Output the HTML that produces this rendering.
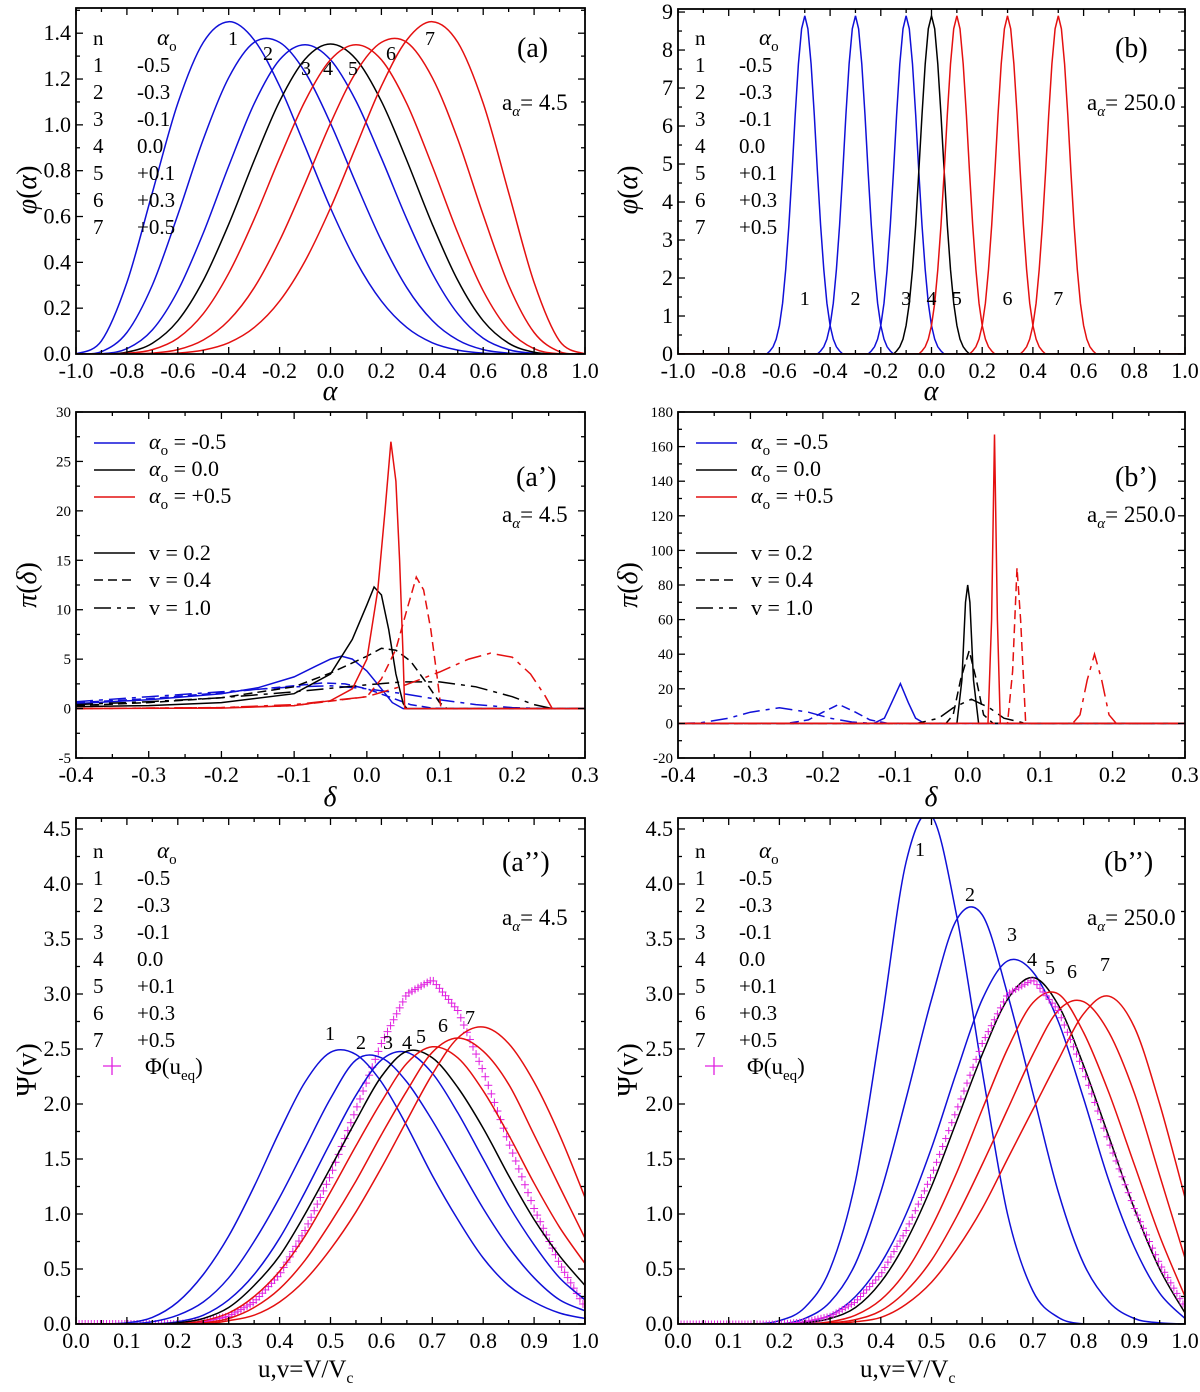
<!DOCTYPE html>
<html><head><meta charset="utf-8">
<style>
html,body{margin:0;padding:0;background:#fff;}
svg, svg text{font-family:"Liberation Serif","Times New Roman",serif;}
</style></head>
<body>
<svg id="fig" width="1200" height="1387" viewBox="0 0 1200 1387" xmlns="http://www.w3.org/2000/svg" font-family="Liberation Serif, serif"></svg>
<script>
// ---------- DATA ----------
// Panel (a)
const alphaGrid=[-1,-0.9,-0.8,-0.7,-0.6,-0.5,-0.4,-0.3,-0.2,-0.1,0,0.1,0.2,0.3,0.4,0.5,0.6,0.7,0.8,0.9,1];
const phiA1=[0,.057,.312,.705,1.094,1.36,1.45,1.371,1.169,.905,.637,.406,.231,.115,.049,.017,.004,.001,0,0,0];
const phiA2=[0,.010,.094,.301,.607,.937,1.206,1.36,1.36,1.23,1.007,.745,.495,.289,.146,.061,.019,.004,.001,0,0];
const phiA3=[0,.001,.023,.105,.276,.528,.820,1.092,1.284,1.35,1.284,1.104,.855,.588,.352,.176,.069,.019,.003,0,0];
const phiA4=[0,0,.008,.047,.145,.321,.566,.844,1.103,1.287,1.353,1.287,1.103,.844,.566,.321,.145,.047,.008,0,0];
const phiA5=[0,0,.003,.019,.069,.176,.352,.588,.855,1.104,1.284,1.35,1.284,1.092,.820,.528,.276,.105,.023,.001,0];
const phiA6=[0,0,.001,.004,.019,.061,.146,.289,.495,.745,1.007,1.23,1.36,1.36,1.206,.937,.607,.301,.094,.010,0];
const phiA7=[0,0,0,.001,.004,.017,.049,.115,.231,.406,.637,.905,1.169,1.371,1.45,1.36,1.094,.705,.312,.057,0];
// Panel (b)
const centersB=[-0.5,-0.3,-0.1,0,0.1,0.3,0.5];
const profileOffsets=[-0.15,-0.1375,-0.125,-0.1125,-0.1,-0.0875,-0.075,-0.0625,-0.05,-0.0375,-0.025,-0.0125,0,0.0125,0.025,0.0375,0.05,0.0625,0.075,0.0875,0.1,0.1125,0.125,0.1375,0.15];
const profileValues=[0,0.08,0.19,0.39,0.75,1.34,2.22,3.39,4.8,6.29,7.63,8.56,8.9,8.56,7.63,6.29,4.8,3.39,2.22,1.34,0.75,0.39,0.19,0.08,0];
// Panel (a')
const pa_blue_s=[[-0.4,0.5],[-0.3,0.9],[-0.2,1.5],[-0.15,2.1],[-0.1,3.2],[-0.07,4.3],[-0.05,5.0],[-0.035,5.3],[-0.02,5.0],[0,3.8],[0.02,2.0],[0.035,0.6],[0.05,0],[0.3,0]];
const pa_blue_d=[[-0.4,0.6],[-0.3,1.0],[-0.2,1.6],[-0.1,2.3],[-0.06,2.6],[-0.03,2.5],[0,2.0],[0.03,1.2],[0.06,0.4],[0.09,0.05],[0.11,0],[0.3,0]];
const pa_blue_l=[[-0.4,0.7],[-0.3,1.2],[-0.2,1.7],[-0.1,2.2],[-0.05,2.3],[0,2.0],[0.05,1.5],[0.1,0.9],[0.15,0.4],[0.2,0.1],[0.25,0],[0.3,0]];
const pa_black_s=[[-0.4,0.2],[-0.3,0.3],[-0.2,0.6],[-0.1,1.5],[-0.05,3.5],[-0.02,7],[0,10.5],[0.01,12.3],[0.02,11.5],[0.03,8],[0.04,3.5],[0.05,0.5],[0.055,0],[0.3,0]];
const pa_black_d=[[-0.4,0.3],[-0.3,0.6],[-0.2,1.1],[-0.1,2.2],[-0.05,3.6],[0,5.3],[0.02,6.1],[0.04,5.9],[0.06,4.8],[0.08,2.8],[0.1,0.6],[0.11,0],[0.3,0]];
const pa_black_l=[[-0.4,0.4],[-0.3,0.7],[-0.2,1.1],[-0.1,1.7],[0,2.4],[0.05,2.7],[0.1,2.7],[0.15,2.2],[0.2,1.2],[0.23,0.4],[0.255,0],[0.3,0]];
const pa_red_s=[[-0.4,0],[-0.2,0.05],[-0.1,0.3],[-0.05,0.8],[-0.02,2],[0,5],[0.015,12],[0.025,20],[0.033,27],[0.04,23],[0.045,15],[0.05,5],[0.052,0],[0.3,0]];
const pa_red_d=[[-0.4,0],[-0.2,0.1],[-0.1,0.3],[0,1.2],[0.02,3],[0.04,6],[0.055,10],[0.068,13.3],[0.078,12],[0.088,8],[0.097,3],[0.102,0],[0.3,0]];
const pa_red_l=[[-0.4,0],[-0.2,0.1],[-0.1,0.4],[0,1.2],[0.05,2.3],[0.1,3.7],[0.14,5],[0.17,5.6],[0.2,5.2],[0.225,3.5],[0.245,1.3],[0.255,0],[0.3,0]];
// Panel (b')
const pb_blue_s=[[-0.4,0],[-0.13,0],[-0.115,3],[-0.105,12],[-0.093,23],[-0.082,12],[-0.072,3],[-0.06,0],[0.3,0]];
const pb_blue_d=[[-0.4,0],[-0.25,0],[-0.22,2],[-0.2,6.5],[-0.178,11],[-0.155,6.5],[-0.135,2],[-0.11,0],[0.3,0]];
const pb_blue_l=[[-0.4,0],[-0.37,0.3],[-0.33,3],[-0.3,6.5],[-0.26,9],[-0.22,6.5],[-0.19,3],[-0.16,0.8],[-0.13,0],[0.3,0]];
const pb_black_s=[[-0.4,0],[-0.015,0],[-0.008,25],[-0.003,70],[0,80],[0.003,70],[0.008,25],[0.015,0],[0.3,0]];
const pb_black_d=[[-0.4,0],[-0.03,0],[-0.02,5],[-0.01,25],[0.002,42],[0.012,25],[0.022,5],[0.035,0],[0.3,0]];
const pb_black_l=[[-0.4,0],[-0.07,0],[-0.04,3],[-0.02,9],[0.005,14],[0.03,9],[0.05,3],[0.08,0],[0.3,0]];
const pb_red_s=[[-0.4,0],[0.028,0],[0.033,60],[0.037,167],[0.041,60],[0.045,0],[0.3,0]];
const pb_red_d=[[-0.4,0],[0.055,0],[0.062,30],[0.068,90],[0.073,60],[0.08,0],[0.3,0]];
const pb_red_l=[[-0.4,0],[0.145,0],[0.155,5],[0.165,25],[0.175,40],[0.185,25],[0.195,5],[0.205,0],[0.3,0]];
// Panel (a'')
const uGrid=[0,0.05,0.1,0.15,0.2,0.25,0.3,0.35,0.4,0.45,0.5,0.55,0.6,0.65,0.7,0.75,0.8,0.85,0.9,0.95,1];
const psiA1=[0,0,.01,.06,.2,.45,.8,1.25,1.75,2.2,2.47,2.45,2.2,1.8,1.35,.95,.6,.35,.2,.1,.05];
const psiA2=[0,0,0,.02,.08,.2,.42,.75,1.15,1.6,2.05,2.4,2.42,2.2,1.85,1.45,1.05,.7,.42,.22,.12];
const psiA3=[0,0,0,0,.02,.08,.22,.45,.78,1.2,1.65,2.08,2.4,2.47,2.28,1.92,1.5,1.08,.72,.42,.22];
const psiA4=[0,0,0,0,.01,.05,.15,.35,.62,1.0,1.42,1.85,2.25,2.48,2.42,2.15,1.78,1.35,.95,.62,.35];
const psiA5=[0,0,0,0,0,.03,.1,.25,.48,.8,1.2,1.62,2.02,2.37,2.52,2.42,2.12,1.72,1.28,.88,.55];
const psiA6=[0,0,0,0,0,.01,.05,.15,.32,.58,.92,1.3,1.72,2.12,2.47,2.6,2.48,2.18,1.72,1.25,.78];
const psiA7=[0,0,0,0,0,0,.03,.08,.2,.4,.68,1.02,1.42,1.85,2.27,2.6,2.7,2.55,2.2,1.72,1.15];
const phiEq=[0,0,0,0,0,.02,.07,.2,.45,.85,1.35,1.95,2.55,3.0,3.13,2.85,2.3,1.65,1.05,.55,.15];
// Panel (b'')
const psiB1=[0,0,0,0,.03,.15,.5,1.3,2.7,4.2,4.62,3.7,2.3,1.0,.3,.06,0,0,0,0,0];
const psiB2=[0,0,0,0,0,.05,.2,.55,1.2,2.05,2.95,3.68,3.72,3.0,2.1,1.2,.55,.2,.05,.01,0];
const psiB3=[0,0,0,0,0,.02,.08,.25,.55,1.0,1.6,2.3,2.95,3.3,3.2,2.75,2.05,1.3,.7,.28,.05];
const psiB4=[0,0,0,0,0,.01,.05,.15,.38,.75,1.25,1.85,2.45,2.95,3.15,2.9,2.35,1.7,1.05,.5,.1];
const psiB5=[0,0,0,0,0,0,.02,.08,.22,.48,.88,1.38,1.95,2.5,2.92,3.0,2.65,2.1,1.45,.8,.25];
const psiB6=[0,0,0,0,0,0,.01,.04,.12,.3,.58,.98,1.45,1.95,2.45,2.85,2.93,2.65,2.1,1.35,.6];
const psiB7=[0,0,0,0,0,0,0,.02,.06,.18,.38,.68,1.05,1.5,1.95,2.4,2.82,2.98,2.7,2.0,1.15];

// ---------- DRAWING ----------
const NS="http://www.w3.org/2000/svg";
const svg=document.getElementById('fig');
const FONT='"Liberation Serif", "Times New Roman", serif';
const BLUE="#1010d8", RED="#e41010", BLACK="#000", MAG="#e020e0";
function el(tag,attrs,parent){const e=document.createElementNS(NS,tag);for(const k in attrs)e.setAttribute(k,attrs[k]);(parent||svg).appendChild(e);return e;}
function mk(P){P.sx=v=>P.x0+(v-P.xmin)/(P.xmax-P.xmin)*(P.x1-P.x0);P.sy=v=>P.y1-(v-P.ymin)/(P.ymax-P.ymin)*(P.y1-P.y0);return P;}
function smoothPath(pts){let d="M"+pts[0][0].toFixed(1)+","+pts[0][1].toFixed(1);
  for(let i=0;i<pts.length-1;i++){const p0=pts[Math.max(0,i-1)],p1=pts[i],p2=pts[i+1],p3=pts[Math.min(pts.length-1,i+2)];
    const c1=[p1[0]+(p2[0]-p0[0])/6,p1[1]+(p2[1]-p0[1])/6],c2=[p2[0]-(p3[0]-p1[0])/6,p2[1]-(p3[1]-p1[1])/6];
    d+=" C"+c1[0].toFixed(1)+","+c1[1].toFixed(1)+" "+c2[0].toFixed(1)+","+c2[1].toFixed(1)+" "+p2[0].toFixed(1)+","+p2[1].toFixed(1);}
  return d;}
function linePath(pts){return "M"+pts.map(p=>p[0].toFixed(1)+","+p[1].toFixed(1)).join(" L");}
let clipN=0;
function panel(P,name){
  mk(P);
  const g=el('g',{});
  
  
  const cid='clip'+(clipN++);
  const cp=el('clipPath',{id:cid},g);el('rect',{x:P.x0,y:P.y0,width:P.x1-P.x0,height:P.y1-P.y0},cp);
  P.g=g;P.plot=el('g',{'clip-path':'url(#'+cid+')'},g);
  
  
  return P;}
function axes(P,name){
  const g=el('g',{stroke:'#000','stroke-width':1.3,fill:'none'},P.g);
  const fr=el('rect',{x:P.x0,y:P.y0,width:P.x1-P.x0,height:P.y1-P.y0,stroke:'#000','stroke-width':1.8,fill:'none'},P.g);
  
  
  const eps=1e-9;
  for(let v=P.xmin;v<=P.xmax+eps;v+=P.xminor){const x=P.sx(v);const maj=Math.abs(Math.round((v-P.xmin)/P.xmajor)*P.xmajor-(v-P.xmin))<1e-6;const L=maj?7:4;
    el('line',{x1:x,y1:P.y1,x2:x,y2:P.y1-L},g);el('line',{x1:x,y1:P.y0,x2:x,y2:P.y0+L},g);}
  for(let v=P.ymin;v<=P.ymax+eps;v+=P.yminor){const y=P.sy(v);const maj=Math.abs(Math.round((v-P.ymin)/P.ymajor)*P.ymajor-(v-P.ymin))<1e-6;const L=maj?7:4;
    el('line',{x1:P.x0,y1:y,x2:P.x0+L,y2:y},g);el('line',{x1:P.x1,y1:y,x2:P.x1-L,y2:y},g);}
  const xl=el('g',{'font-size':P.xfs||22,'text-anchor':'middle',fill:'#000','font-family':FONT},P.g);
  
  
  for(let v=P.xmin;v<=P.xmax+eps;v+=P.xmajor){const t=el('text',{x:P.sx(v),y:P.y1+24},xl);let s=v.toFixed(P.xdec);if(s==='-0.0')s='0.0';t.textContent=s;}
  const yl=el('g',{'font-size':P.yfs||22,'text-anchor':'end',fill:'#000','font-family':FONT},P.g);
  
  
  for(let v=P.ymin;v<=P.ymax+eps;v+=P.ymajor){const t=el('text',{x:P.x0-5,y:P.sy(v)+(P.yfs?5:7)},yl);t.textContent=v.toFixed(P.ydec);}
}
function curve(P,xs,ys,color,name,dash,smooth){
  const pts=xs.map((x,i)=>[P.sx(x),P.sy(ys[i])]);
  const p=el('path',{d:smooth?smoothPath(pts):linePath(pts),fill:'none',stroke:color,'stroke-width':1.5},P.plot);
  if(dash)p.setAttribute('stroke-dasharray',dash);
  
  
  return p;}
function pairCurve(P,pairs,color,name,dash){return curve(P,pairs.map(p=>p[0]),pairs.map(p=>p[1]),color,name,dash,false);}
function txt(x,y,s,fs,name,extra){const t=el('text',Object.assign({x:x,y:y,'font-size':fs,fill:'#000','font-family':FONT},extra||{}));t.innerHTML=s;
  
  
  return t;}
const SUBO='<tspan font-style="italic">α</tspan><tspan font-size="15" dy="6">o</tspan>';
const AALPHA=(v)=>'a<tspan font-size="15" dy="6" font-style="italic">α</tspan><tspan dy="-6">= '+v+'</tspan>';
const alphaVals=['-0.5','-0.3','-0.1',' 0.0','+0.1','+0.3','+0.5'];
function nLegend(ox,oy,name,withPhi){
  txt(ox,oy,'n',21,name+'-header-n');
  txt(ox+64,oy,SUBO,23,name+'-header-alpha');
  for(let i=0;i<7;i++){txt(ox,oy+27*(i+1),String(i+1),21,name+'-row-'+(i+1)+'-n');
    txt(ox+44,oy+27*(i+1),alphaVals[i],21,name+'-row-'+(i+1)+'-value',{'xml:space':'preserve'});}
  if(withPhi){const y=oy+27*8;
    const c=el('g',{stroke:MAG,'stroke-width':1.3});
    
    
    el('line',{x1:ox+10,y1:y-8,x2:ox+28,y2:y-8},c);el('line',{x1:ox+19,y1:y-17,x2:ox+19,y2:y+1},c);
    txt(ox+52,y,'Φ(u<tspan font-size="15" dy="6">eq</tspan><tspan dy="-6">)</tspan>',23,name+'-phi-label');}
}

// Panel (a)
const PA=panel({x0:76,x1:585,y0:8,y1:354,xmin:-1,xmax:1,ymin:0,ymax:1.51,xmajor:0.2,xminor:0.1,ymajor:0.2,yminor:0.1,xdec:1,ydec:1},'panel-a');
[phiA1,phiA2,phiA3,phiA4,phiA5,phiA6,phiA7].forEach((arr,i)=>curve(PA,alphaGrid,arr,i<3?BLUE:(i==3?BLACK:RED),'phi-curve-'+(i+1),null,true));
axes(PA,'panel-a');
// Panel (b)
const PB=panel({x0:678,x1:1185,y0:9,y1:354,xmin:-1,xmax:1,ymin:0,ymax:9.08,xmajor:0.2,xminor:0.1,ymajor:1,yminor:0.5,xdec:1,ydec:0},'panel-b');
centersB.forEach((c,i)=>{const xs=[-1].concat(profileOffsets.map(o=>c+o)).concat([1]);const ys=[0].concat(profileValues).concat([0]);
  curve(PB,xs,ys,i<3?BLUE:(i==3?BLACK:RED),'phi-curve-'+(i+1),null,false);});
curve(PB,[-1,1],[0,0],RED,'baseline-red',null,false);
axes(PB,'panel-b');
// Panel (a')
const PA2=panel({x0:76,x1:585,y0:412,y1:758,xmin:-0.4,xmax:0.3,ymin:-5,ymax:30,xmajor:0.1,xminor:0.05,ymajor:5,yminor:2.5,xdec:1,ydec:0,yfs:15},'panel-a-prime');
const D2="9,5",D3="17,6,4,6";
pairCurve(PA2,pa_blue_l,BLUE,'pi-blue-v1',D3);pairCurve(PA2,pa_blue_d,BLUE,'pi-blue-v04',D2);pairCurve(PA2,pa_blue_s,BLUE,'pi-blue-v02');
pairCurve(PA2,pa_black_l,BLACK,'pi-black-v1',D3);pairCurve(PA2,pa_black_d,BLACK,'pi-black-v04',D2);pairCurve(PA2,pa_black_s,BLACK,'pi-black-v02');
pairCurve(PA2,pa_red_l,RED,'pi-red-v1',D3);pairCurve(PA2,pa_red_d,RED,'pi-red-v04',D2);pairCurve(PA2,pa_red_s,RED,'pi-red-v02');
axes(PA2,'panel-a-prime');
// Panel (b')
const PB2=panel({x0:678,x1:1185,y0:412,y1:758,xmin:-0.4,xmax:0.3,ymin:-20,ymax:180,xmajor:0.1,xminor:0.05,ymajor:20,yminor:10,xdec:1,ydec:0,yfs:15},'panel-b-prime');
pairCurve(PB2,pb_blue_l,BLUE,'pi-blue-v1',D3);pairCurve(PB2,pb_blue_d,BLUE,'pi-blue-v04',D2);pairCurve(PB2,pb_blue_s,BLUE,'pi-blue-v02');
pairCurve(PB2,pb_black_l,BLACK,'pi-black-v1',D3);pairCurve(PB2,pb_black_d,BLACK,'pi-black-v04',D2);pairCurve(PB2,pb_black_s,BLACK,'pi-black-v02');
pairCurve(PB2,pb_red_l,RED,'pi-red-v1',D3);pairCurve(PB2,pb_red_d,RED,'pi-red-v04',D2);pairCurve(PB2,pb_red_s,RED,'pi-red-v02');
axes(PB2,'panel-b-prime');
// Panels (a'') (b'')
function crosses(P,name,size){const g=el('g',{stroke:MAG,'stroke-width':1},P.plot);
  
  
  for(let u=0;u<=1.0001;u+=0.006){const k=Math.min(uGrid.length-2,Math.floor(u/0.05));const t=(u-uGrid[k])/0.05;const v=phiEq[k]*(1-t)+phiEq[k+1]*t;
    const x=P.sx(u),y=P.sy(v);el('line',{x1:x-size,y1:y,x2:x+size,y2:y},g);el('line',{x1:x,y1:y-size,x2:x,y2:y+size},g);}}
function closeEnd(P,arr,color,name){const v=arr[arr.length-1];const l=el('line',{x1:P.sx(1),y1:P.sy(v),x2:P.sx(1),y2:P.sy(0),stroke:color,'stroke-width':1.5},P.plot);
  
  }
const PA3=panel({x0:76,x1:585,y0:818,y1:1324,xmin:0,xmax:1,ymin:0,ymax:4.6,xmajor:0.1,xminor:0.05,ymajor:0.5,yminor:0.25,xdec:1,ydec:1},'panel-a-double-prime');
crosses(PA3,'phi-ueq-markers',4);
[psiA1,psiA2,psiA3,psiA4,psiA5,psiA6,psiA7].forEach((arr,i)=>{const c=i<3?BLUE:(i==3?BLACK:RED);curve(PA3,uGrid,arr,c,'psi-curve-'+(i+1),null,true);closeEnd(PA3,arr,c,'psi-end-'+(i+1));});
axes(PA3,'panel-a-double-prime');
const PB3=panel({x0:678,x1:1185,y0:818,y1:1324,xmin:0,xmax:1,ymin:0,ymax:4.6,xmajor:0.1,xminor:0.05,ymajor:0.5,yminor:0.25,xdec:1,ydec:1},'panel-b-double-prime');
[psiB1,psiB2,psiB3,psiB4,psiB5,psiB6,psiB7].forEach((arr,i)=>{const c=i<3?BLUE:(i==3?BLACK:RED);curve(PB3,uGrid,arr,c,'psi-curve-'+(i+1),null,true);closeEnd(PB3,arr,c,'psi-end-'+(i+1));});
crosses(PB3,'phi-ueq-markers',3.5);
axes(PB3,'panel-b-double-prime');

// ---------- TEXT ----------
nLegend(93,45,'legend-a',false);
nLegend(695,45,'legend-b',false);
nLegend(93,858,'legend-a2',true);
nLegend(695,858,'legend-b2',true);
txt(517,57,'(a)',28,'panel-label-a');
txt(1115,57,'(b)',28,'panel-label-b');
txt(502,871,'(a’’)',28,'panel-label-a2');
txt(1104,871,'(b’’)',28,'panel-label-b2');
txt(516,486,'(a’)',28,'panel-label-a1');
txt(1115,486,'(b’)',28,'panel-label-b1');
txt(502,110,AALPHA('4.5'),23,'a-alpha-a');
txt(1087,110,AALPHA('250.0'),23,'a-alpha-b');
txt(502,522,AALPHA('4.5'),23,'a-alpha-a1');
txt(1087,522,AALPHA('250.0'),23,'a-alpha-b1');
txt(502,925,AALPHA('4.5'),23,'a-alpha-a2');
txt(1087,925,AALPHA('250.0'),23,'a-alpha-b2');
// curve numbers
const numsA=[[233,45],[268,60],[306,75],[328,75],[353,75],[391,60],[430,45]];
numsA.forEach((p,i)=>txt(p[0]-5,p[1],String(i+1),20,'curve-number-a-'+(i+1)));
centersB.forEach((c,i)=>txt(PB.sx(c)-5,305,String(i+1),20,'curve-number-b-'+(i+1)));
const numsA3=[[330,1040],[361,1049],[388,1049],[407,1049],[421,1043],[443,1032],[470,1024]];
numsA3.forEach((p,i)=>txt(p[0]-5,p[1],String(i+1),20,'curve-number-a2-'+(i+1)));
const numsB3=[[920,856],[970,901],[1012,941],[1032,966],[1050,974],[1072,978],[1105,971]];
numsB3.forEach((p,i)=>txt(p[0]-5,p[1],String(i+1),20,'curve-number-b2-'+(i+1)));
// legends (a') (b')
function piLegend(ox,name){
  const rows=[[BLUE,'<tspan font-style="italic">α</tspan><tspan font-size="15" dy="6">o</tspan><tspan dy="-6"> = -0.5</tspan>'],
    [BLACK,'<tspan font-style="italic">α</tspan><tspan font-size="15" dy="6">o</tspan><tspan dy="-6"> =  0.0</tspan>'],
    [RED,'<tspan font-style="italic">α</tspan><tspan font-size="15" dy="6">o</tspan><tspan dy="-6"> = +0.5</tspan>']];
  const ys=[443,470,497];
  rows.forEach((r,i)=>{const l=el('line',{x1:ox,y1:ys[i],x2:ox+41,y2:ys[i],stroke:r[0],'stroke-width':1.5});
    
    
    txt(ox+55,ys[i]+6,r[1],22,name+'-label-'+(i+1),{'xml:space':'preserve'});});
  const vr=[[null,'v = 0.2'],[D2,'v = 0.4'],[D3,'v = 1.0']];const vy=[553,580,608];
  vr.forEach((r,i)=>{const l=el('line',{x1:ox,y1:vy[i],x2:ox+41,y2:vy[i],stroke:'#000','stroke-width':1.5});
    if(r[0])l.setAttribute('stroke-dasharray',r[0]);
    
    
    txt(ox+55,vy[i]+7,r[1],22,name+'-v-label-'+(i+1));});
}
piLegend(94,'legend-a1');
piLegend(696,'legend-b1');
// axis titles
function ytitle(x,y,s,name){const t=el('text',{x:0,y:0,'font-size':28,fill:'#000','font-family':FONT,'text-anchor':'middle',transform:'translate('+x+','+y+') rotate(-90)'});t.innerHTML=s;
  
  }
ytitle(36,190,'<tspan font-style="italic">φ</tspan>(<tspan font-style="italic">α</tspan>)','y-axis-title-a');
ytitle(637,190,'<tspan font-style="italic">φ</tspan>(<tspan font-style="italic">α</tspan>)','y-axis-title-b');
ytitle(36,585,'<tspan font-style="italic">π</tspan>(<tspan font-style="italic">δ</tspan>)','y-axis-title-a1');
ytitle(637,585,'<tspan font-style="italic">π</tspan>(<tspan font-style="italic">δ</tspan>)','y-axis-title-b1');
ytitle(36,1070,'Ψ(v)','y-axis-title-a2');
ytitle(637,1070,'Ψ(v)','y-axis-title-b2');
txt(330,400,'α',28,'x-axis-title-a',{'font-style':'italic','text-anchor':'middle'});
txt(931,400,'α',28,'x-axis-title-b',{'font-style':'italic','text-anchor':'middle'});
txt(330,806,'δ',28,'x-axis-title-a1',{'font-style':'italic','text-anchor':'middle'});
txt(931,806,'δ',28,'x-axis-title-b1',{'font-style':'italic','text-anchor':'middle'});
txt(258,1377,'u,v=V/V<tspan font-size="16" dy="6">c</tspan>',25,'x-axis-title-a2');
txt(860,1377,'u,v=V/V<tspan font-size="16" dy="6">c</tspan>',25,'x-axis-title-b2');
</script>
</body></html>
